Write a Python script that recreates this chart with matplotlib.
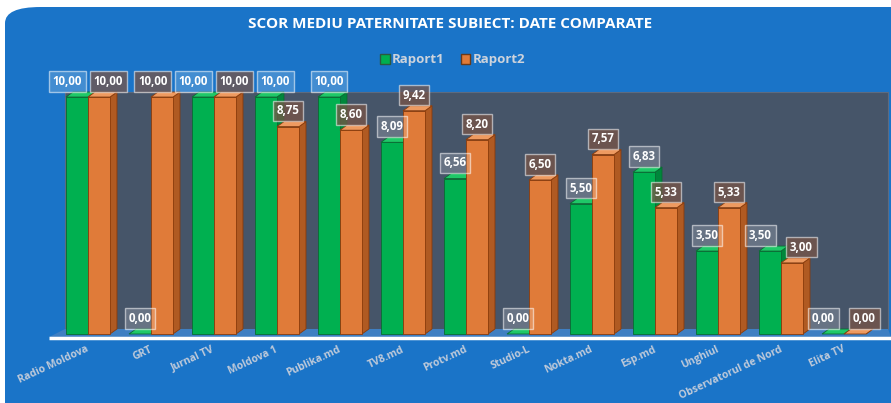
import matplotlib.pyplot as plt
from matplotlib.patches import Polygon, FancyBboxPatch, Patch

categories = ["Radio Moldova", "GRT", "Jurnal TV", "Moldova 1", "Publika.md", "TV8.md",
              "Protv.md", "Studio-L", "Nokta.md", "Esp.md", "Unghiul",
              "Observatorul de Nord", "Elita TV"]
raport1 = [10.00, 0.00, 10.00, 10.00, 10.00, 8.09, 6.56, 0.00, 5.50, 6.83, 3.50, 3.50, 0.00]
raport2 = [10.00, 10.00, 10.00, 8.75, 8.60, 9.42, 8.20, 6.50, 7.57, 5.33, 5.33, 3.00, 0.00]
series_names = ["Raport1", "Raport2"]

FONT = "Open Sans"
BLUE = "#1a74c8"
WALL = "#465569"
GREEN = ("#00b050", "#00873b", "#1fc868")
ORANGE = ("#e07b39", "#b05a22", "#ee9a60")
EDGE = ("#0a6b33", "#8a3b0b")

fig = plt.figure(figsize=(8.91, 4.03), dpi=100)
fig.patch.set_facecolor("white")
fig.patches.append(FancyBboxPatch((5 / 891, -0.1), 1.2, (403 - 7) / 403 + 0.1,
                                  boxstyle="round,pad=0,rounding_size=0.04",
                                  transform=fig.transFigure, facecolor=BLUE,
                                  edgecolor="none", zorder=-5))

ax = fig.add_axes([49 / 891, (403 - 338) / 403, 842 / 891, (338 - 70) / 403])
ax.set_facecolor("none")
ax.set_xlim(-0.619, 12.746)
ax.set_ylim(-0.169, 11.14)
ax.axis("off")

w = 0.349
dx, dy = 0.111, 0.211

# back wall and floor
ax.add_patch(Polygon([(-0.365, dy), (12.70, dy), (12.70, 10.21), (-0.365, 10.21)],
                     closed=True, facecolor=WALL, edgecolor="#5d6b80", lw=0.8, zorder=1))
ax.add_patch(Polygon([(-0.619, -0.13), (12.746, -0.13), (12.70, dy), (-0.365, dy)],
                     closed=True, facecolor="#3f7fc2", edgecolor="none", zorder=1))
ax.plot([-0.619, 12.746], [-0.15, -0.15], color="white", lw=2.5, zorder=2,
        solid_capstyle="butt", clip_on=False)


def bar3d(x0, h, cols, edge, z):
    front, side, top = cols
    ax.add_patch(Polygon([(x0 + w, 0), (x0 + w + dx, dy), (x0 + w + dx, h + dy), (x0 + w, h)],
                         facecolor=side, edgecolor=edge, lw=0.6, zorder=z))
    ax.add_patch(Polygon([(x0, h), (x0 + w, h), (x0 + w + dx, h + dy), (x0 + dx, h + dy)],
                         facecolor=top, edgecolor=edge, lw=0.6, zorder=z))
    if h > 0:
        ax.add_patch(Polygon([(x0, 0), (x0 + w, 0), (x0 + w, h), (x0, h)],
                             facecolor=front, edgecolor=edge, lw=0.6, zorder=z))


# data labels: start centred on each bar, then push overlapping neighbours apart
labels = []
for i, (a, b) in enumerate(zip(raport1, raport2)):
    labels.append([i - w / 2, a, (1, 1, 1, 0.18)])
    labels.append([i + w / 2, b, (0.47, 0.33, 0.28, 0.75)])
lab_w = 0.65
for _ in range(6):
    for k in range(1, len(labels)):
        p, c = labels[k - 1], labels[k]
        overlap = lab_w - (c[0] - p[0])
        if overlap > 0 and abs(c[1] - p[1]) < 0.8:
            p[0] -= overlap / 2
            c[0] += overlap / 2

for i, (a, b) in enumerate(zip(raport1, raport2)):
    bar3d(i - w, a, GREEN, EDGE[0], 5 + 2 * i)
    bar3d(i, b, ORANGE, EDGE[1], 6 + 2 * i)
    ax.text(i - 0.03, -0.42, categories[i], rotation=25, rotation_mode="anchor",
            ha="right", va="top", color="#bfcada", fontsize=7.5, fontweight="bold",
            family=FONT, clip_on=False)

for x, h, fc in labels:
    ax.text(x, h + 0.66, f"{h:.2f}".replace(".", ","), ha="center", va="center",
            color="white", fontsize=8.3, fontweight="bold", family=FONT, zorder=40,
            clip_on=False,
            bbox=dict(boxstyle="square,pad=0.32", facecolor=fc,
                      edgecolor=(1, 1, 1, 0.55), lw=1))

fig.text(0.505, (403 - 24) / 403, "SCOR MEDIU PATERNITATE SUBIECT: DATE COMPARATE",
         ha="center", va="center", color="white", fontsize=11, fontweight="bold",
         family=FONT)

handles = [Patch(facecolor=GREEN[0], edgecolor="#2a5a40"),
           Patch(facecolor=ORANGE[0], edgecolor="#6a3a1a")]
fig.legend(handles, series_names, loc="center", bbox_to_anchor=(0.508, (403 - 60) / 403),
           ncol=2, frameon=False, handlelength=0.7, handleheight=0.7, handletextpad=0.2,
           columnspacing=1.2, labelcolor="#cdd3dc",
           prop=dict(family=FONT, weight="bold", size=9.5))

fig.savefig("out.png", dpi=100)
